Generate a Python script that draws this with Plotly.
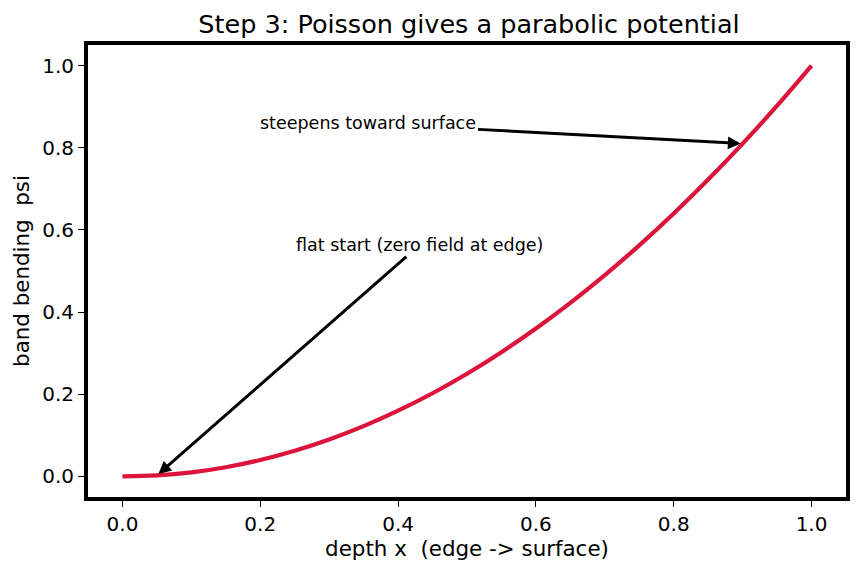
import plotly.graph_objects as go

depth_x = [0.0, 0.05, 0.1, 0.15, 0.2, 0.25, 0.3, 0.35, 0.4, 0.45, 0.5,
           0.55, 0.6, 0.65, 0.7, 0.75, 0.8, 0.85, 0.9, 0.95, 1.0]
psi = [0.0, 0.0025, 0.01, 0.0225, 0.04, 0.0625, 0.09, 0.1225, 0.16, 0.2025, 0.25,
       0.3025, 0.36, 0.4225, 0.49, 0.5625, 0.64, 0.7225, 0.81, 0.9025, 1.0]
tick_vals = [0.0, 0.2, 0.4, 0.6, 0.8, 1.0]
tick_text = ["0.0", "0.2", "0.4", "0.6", "0.8", "1.0"]

FONT = "DejaVu Sans"
W, H = 862, 573
L, R, T, B = 88, 850, 45, 497

fig = go.Figure()
fig.add_trace(go.Scatter(x=depth_x, y=psi, mode="lines",
                         line=dict(color="#DC143C", width=4.2, shape="spline"),
                         showlegend=False, hoverinfo="skip"))

ax_common = dict(showgrid=False, zeroline=False, showline=True, linecolor="black",
                 linewidth=3.8, mirror=True, ticks="outside", ticklen=6, tickwidth=1.3,
                 tickcolor="black", tickfont=dict(family=FONT, size=20, color="black"),
                 tickvals=tick_vals, ticktext=tick_text)

fig.update_layout(
    width=W, height=H,
    margin=dict(l=L, r=W - R, t=T, b=H - B),
    paper_bgcolor="white", plot_bgcolor="white",
    title=dict(text="Step 3: Poisson gives a parabolic potential",
               font=dict(family=FONT, size=25.5, color="black"),
               x=(L + R) / 2 / W, xanchor="center", y=1 - 24 / H, yanchor="middle"),
    xaxis=dict(range=[-0.05, 1.05],
               title=dict(text="depth x \u00a0(edge -> surface)", standoff=6,
                          font=dict(family=FONT, size=21.4, color="black")),
               **ax_common),
    yaxis=dict(range=[-0.05, 1.05],
               title=dict(text="band bending \u00a0psi", standoff=8,
                          font=dict(family=FONT, size=21.4, color="black")),
               **ax_common),
)

ann_font = dict(family=FONT, size=17.5, color="black")
fig.add_annotation(x=0.9, y=0.81, ax=0.357, ay=0.859, xref="x", yref="y",
                   axref="x", ayref="y", text="steepens toward surface",
                   showarrow=True, arrowhead=2, arrowsize=0.85, arrowwidth=3,
                   arrowcolor="black", font=ann_font, standoff=2)
fig.add_annotation(x=0.05, y=0.0025, ax=0.431, ay=0.563, xref="x", yref="y",
                   axref="x", ayref="y", text="flat start (zero field at edge)",
                   showarrow=True, arrowhead=2, arrowsize=0.85, arrowwidth=3,
                   arrowcolor="black", font=ann_font, standoff=2)

fig.write_html("out.html")
